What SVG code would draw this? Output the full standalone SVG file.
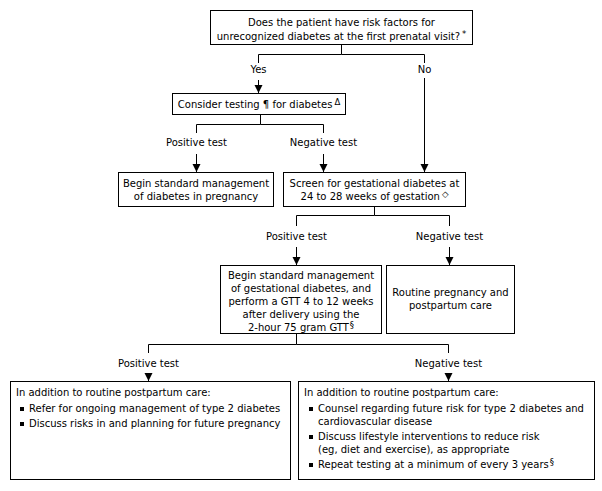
<svg xmlns="http://www.w3.org/2000/svg" width="602" height="491" viewBox="0 0 602 491">
<defs>
<style>
text{font-family:"DejaVu Sans",Verdana,sans-serif;font-size:10px;fill:#000}
.c{text-anchor:middle}
.box{fill:#fff;stroke:#000;stroke-width:1}
.ln{fill:none;stroke:#000;stroke-width:1}
.sup{font-size:8.5px}
</style>
<marker id="ah" viewBox="0 0 8 10" refX="8" refY="5" markerWidth="8" markerHeight="10" markerUnits="userSpaceOnUse" orient="auto">
<path d="M0,1 L8,5 L0,9 Z" fill="#000"/>
</marker>
</defs>
<rect width="602" height="491" fill="#fff"/>
<g id="connectors">
<path class="ln" d="M341.5,44 V54.5 H258.5 V63"/>
<path class="ln" d="M424.5,54.5 H341.5"/>
<path class="ln" d="M424.5,54.5 V63"/>
<path class="ln" d="M258.5,80 V93" marker-end="url(#ah)"/>
<path class="ln" d="M424.5,78 V172" marker-end="url(#ah)"/>
<path class="ln" d="M260.5,114 V124.5 H196.5 V133"/>
<path class="ln" d="M260.5,124.5 H323.5 V133"/>
<path class="ln" d="M196.5,154 V172" marker-end="url(#ah)"/>
<path class="ln" d="M323.5,154 V172" marker-end="url(#ah)"/>
<path class="ln" d="M374.5,206 V215.5 H296.5 V226"/>
<path class="ln" d="M374.5,215.5 H449.5 V226"/>
<path class="ln" d="M296.5,247 V265" marker-end="url(#ah)"/>
<path class="ln" d="M449.5,247 V265" marker-end="url(#ah)"/>
<path class="ln" d="M296.5,333 V344.5 H148.5 V353"/>
<path class="ln" d="M296.5,344.5 H448.5 V353"/>
<path class="ln" d="M148.5,373 V381" marker-end="url(#ah)"/>
<path class="ln" d="M448.5,373 V381" marker-end="url(#ah)"/>
</g>
<g id="labels">
<text class="c" x="258.5" y="73">Yes</text>
<text class="c" x="424.5" y="73">No</text>
<text class="c" x="196.5" y="146">Positive test</text>
<text class="c" x="323.5" y="146">Negative test</text>
<text class="c" x="296.5" y="240">Positive test</text>
<text class="c" x="449.5" y="240">Negative test</text>
<text class="c" x="148.5" y="367">Positive test</text>
<text class="c" x="448.5" y="367">Negative test</text>
</g>
<g id="n-risk">
<rect class="box" x="210.5" y="10.5" width="262" height="34"/>
<text class="c" x="341.5" y="25.5">Does the patient have risk factors for</text>
<text class="c" x="341.5" y="39.5">unrecognized diabetes at the first prenatal visit?<tspan class="sup" dx="2" dy="-3">*</tspan></text>
</g>
<g id="n-consider">
<rect class="box" x="172.5" y="93.5" width="173" height="21"/>
<text class="c" x="259" y="107.5">Consider testing ¶ for diabetes<tspan class="sup" dx="2" dy="-3">Δ</tspan></text>
</g>
<g id="n-begin-preg">
<rect class="box" x="118.5" y="172.5" width="155" height="34"/>
<text class="c" x="196" y="186.5">Begin standard management</text>
<text class="c" x="196" y="200">of diabetes in pregnancy</text>
</g>
<g id="n-screen">
<rect class="box" x="283.5" y="172.5" width="182" height="34"/>
<text class="c" x="374.5" y="186.5">Screen for gestational diabetes at</text>
<text class="c" x="374.5" y="200">24 to 28 weeks of gestation<tspan class="sup" dx="2" dy="-3">◇</tspan></text>
</g>
<g id="n-gtt">
<rect class="box" x="220.5" y="265.5" width="161" height="68"/>
<text class="c" x="301" y="279">Begin standard management</text>
<text class="c" x="301" y="292">of gestational diabetes, and</text>
<text class="c" x="301" y="305">perform a GTT 4 to 12 weeks</text>
<text class="c" x="301" y="318">after delivery using the</text>
<text class="c" x="301" y="331">2-hour 75 gram GTT<tspan class="sup" dx="1" dy="-3">§</tspan></text>
</g>
<g id="n-routine">
<rect class="box" x="386.5" y="265.5" width="128" height="68"/>
<text class="c" x="450.5" y="296">Routine pregnancy and</text>
<text class="c" x="450.5" y="309">postpartum care</text>
</g>
<g id="n-pos-post">
<rect class="box" x="10.5" y="381.5" width="280" height="98"/>
<text x="16" y="396">In addition to routine postpartum care:</text>
<rect x="20" y="407" width="4" height="4"/>
<text x="29" y="412">Refer for ongoing management of type 2 diabetes</text>
<rect x="20" y="422" width="4" height="4"/>
<text x="29" y="427">Discuss risks in and planning for future pregnancy</text>
</g>
<g id="n-neg-post">
<rect class="box" x="298.5" y="381.5" width="296" height="98"/>
<text x="304" y="396">In addition to routine postpartum care:</text>
<rect x="309" y="407" width="4" height="4"/>
<text x="318" y="412">Counsel regarding future risk for type 2 diabetes and</text>
<text x="318" y="425">cardiovascular disease</text>
<rect x="309" y="435" width="4" height="4"/>
<text x="318" y="440">Discuss lifestyle interventions to reduce risk</text>
<text x="318" y="453">(eg, diet and exercise), as appropriate</text>
<rect x="309" y="463" width="4" height="4"/>
<text x="318" y="468">Repeat testing at a minimum of every 3 years<tspan class="sup" dx="1" dy="-3">§</tspan></text>
</g>
</svg>
